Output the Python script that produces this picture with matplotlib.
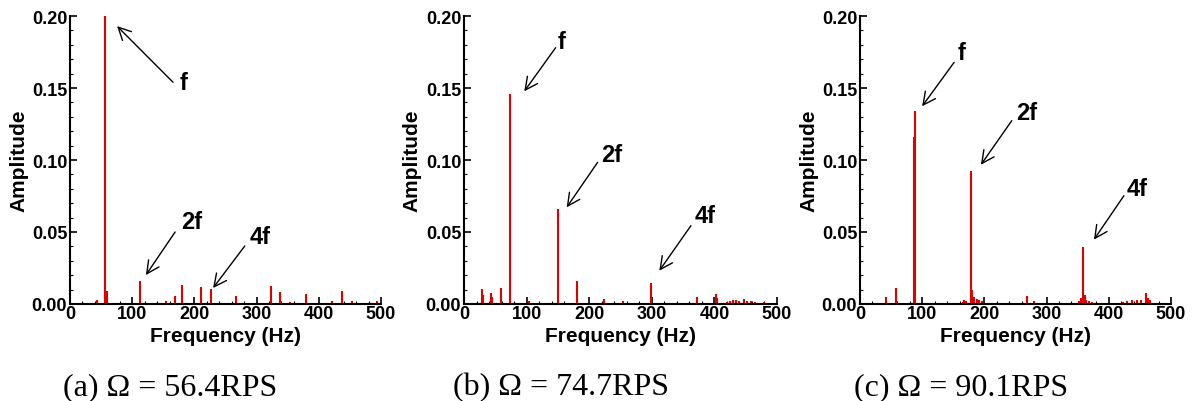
import matplotlib
matplotlib.use("Agg")
import matplotlib.pyplot as plt
from matplotlib.ticker import MultipleLocator, FormatStrFormatter

# ---- data (peaks) ----
freq_a = [43, 56.8, 59.5, 112.6, 154, 169, 180.6, 210.6, 226, 267, 323, 337, 353.8, 379.5, 421.8, 436.8, 453, 493]
amp_a = [0.003, 0.200, 0.009, 0.016, 0.002, 0.0053, 0.0134, 0.0118, 0.0105, 0.0053, 0.0122, 0.0085, 0.0015, 0.0068, 0.002, 0.0092, 0.0018, 0.002]

freq_b = [29.3, 30.5, 43.8, 45.5, 59.8, 74.0, 103.5, 149.4, 179.8, 223.6, 253.5, 298.3, 328, 372.5, 402.3, 404,
          420, 425, 430, 435, 440, 446.6, 452, 458, 465, 478.6]
amp_b = [0.0106, 0.006, 0.0079, 0.005, 0.0113, 0.146, 0.002, 0.0657, 0.0157, 0.0037, 0.002, 0.0146, 0.001, 0.0049, 0.0067, 0.004,
         0.0015, 0.002, 0.0025, 0.0028, 0.002, 0.0035, 0.002, 0.0018, 0.0015, 0.0015]

freq_c = [41.8, 58.4, 87.4, 88.4, 165, 168, 171, 178.5, 180.6, 183, 187.6, 191, 195.6, 269, 279.8, 347, 352, 355, 359, 361.3,
          364, 368, 372.5, 423, 430, 437, 445, 452, 460, 463, 466, 493]
amp_c = [0.0046, 0.0113, 0.116, 0.1343, 0.0015, 0.0025, 0.002, 0.0922, 0.010, 0.005, 0.0035, 0.0025, 0.002, 0.0055, 0.002, 0.001, 0.002, 0.004, 0.0393, 0.006,
         0.003, 0.002, 0.0015, 0.0015, 0.002, 0.0025, 0.0025, 0.003, 0.0076, 0.004, 0.003, 0.001]

captions = ["(a) \u03a9 = 56.4RPS", "(b) \u03a9 = 74.7RPS", "(c) \u03a9 = 90.1RPS"]

# annotation labels, text positions, arrow tails and tips (data coords)
labels = ["f", "2f", "4f"]
text_pos = [
    [(183, 0.154), (196, 0.0576), (305, 0.0472)],
    [(156.5, 0.182), (235.8, 0.104), (384.9, 0.0613)],
    [(163.2, 0.1748), (267.9, 0.1331), (446.3, 0.0799)],
]
arrow_tail = [
    [(165.6, 0.154), (169, 0.050), (281, 0.0403)],
    [(146.4, 0.178), (213.5, 0.0984), (362.5, 0.0544)],
    [(151.3, 0.1678), (244.0, 0.1273), (424.3, 0.0752)],
]
arrow_tip = [
    [(75.6, 0.193), (122, 0.0201), (230, 0.0111)],
    [(96.3, 0.1477), (164, 0.0671), (312, 0.0231)],
    [(99.9, 0.1373), (194.4, 0.0967), (376.1, 0.0447)],
]

series = [(freq_a, amp_a), (freq_b, amp_b), (freq_c, amp_c)]

W, H = 1196, 402
fig = plt.figure(figsize=(W / 100, H / 100), dpi=100)

ax_px = [(70, 311), (464, 313), (860, 311)]
cap_x = [63, 453, 854]
bottom_px, top_px = 305, 17

sans = "Liberation Sans"
red = "#e00000"

for i, ((fr, am), (lx, wx)) in enumerate(zip(series, ax_px)):
    ax = fig.add_axes([lx / W, (H - bottom_px) / H, wx / W, (bottom_px - top_px) / H])
    ax.vlines(fr, 0, am, color=red, lw=1.5)
    ax.set_xlim(0, 500)
    ax.set_ylim(0, 0.2)
    for s in ["top", "right"]:
        ax.spines[s].set_visible(False)
    for s in ["left", "bottom"]:
        ax.spines[s].set_linewidth(1.5)
    ax.xaxis.set_major_locator(MultipleLocator(100))
    ax.xaxis.set_minor_locator(MultipleLocator(20))
    ax.yaxis.set_major_locator(MultipleLocator(0.05))
    ax.yaxis.set_minor_locator(MultipleLocator(0.01))
    ax.yaxis.set_major_formatter(FormatStrFormatter("%.2f"))
    ax.tick_params(which="major", direction="in", length=5, width=1.2, pad=2)
    ax.tick_params(which="minor", direction="in", length=2.5, width=0.8)
    ax.tick_params(axis="x", which="major", pad=1)
    for lab in ax.get_xticklabels() + ax.get_yticklabels():
        lab.set_fontfamily(sans)
        lab.set_fontweight("bold")
        lab.set_fontsize(13)
    ax.set_xlabel("Frequency (Hz)", fontfamily=sans, fontweight="bold", fontsize=15)
    ax.set_ylabel("Amplitude", fontfamily=sans, fontweight="bold", fontsize=15)
    ax.xaxis.set_label_coords(0.5, -0.075)
    ax.yaxis.set_label_coords(-0.135, 0.5)

    for lab, tp, tl, tip in zip(labels, text_pos[i], arrow_tail[i], arrow_tip[i]):
        ax.annotate("", xy=tip, xytext=tl,
                    arrowprops=dict(arrowstyle="->,head_length=0.9,head_width=0.45",
                                    color="black", lw=1.0, shrinkA=0, shrinkB=0))
        ax.text(tp[0], tp[1], lab, ha="center", va="center", fontfamily=sans,
                fontweight="bold", fontsize=17)

    fig.text(cap_x[i] / W, (H - 395) / H, captions[i], ha="left", va="baseline",
             fontfamily="Liberation Serif", fontsize=23)

fig.savefig("out.png", dpi=100)
